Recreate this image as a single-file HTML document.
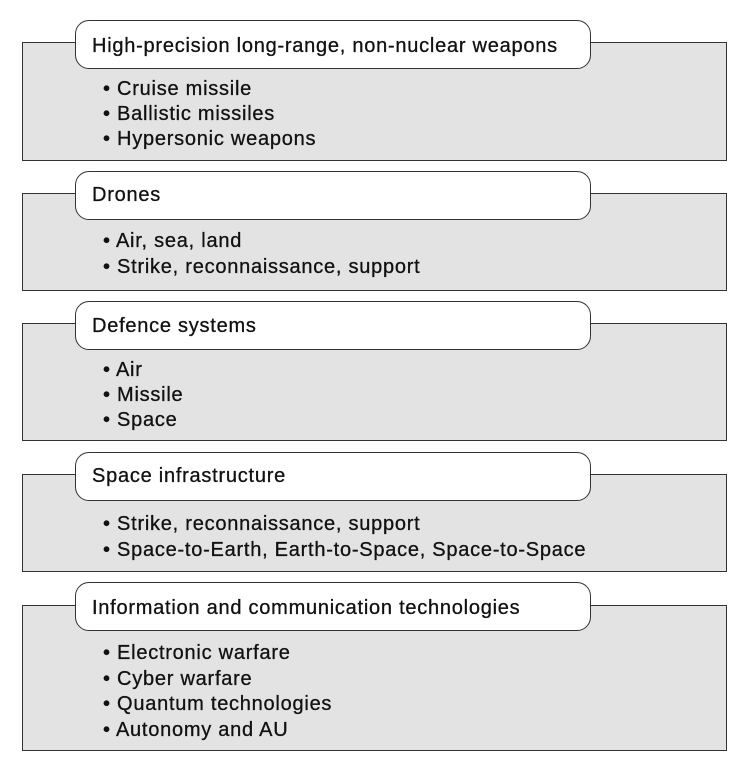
<!DOCTYPE html>
<html><head><meta charset="utf-8"><style>
body{margin:0;width:751px;height:774px;background:#fff;position:relative;overflow:hidden;font-family:"Liberation Sans",sans-serif;color:#111}
.g{position:absolute;left:22px;width:705px;background:#e3e3e4;border:1.5px solid #333;box-sizing:border-box}
.h{position:absolute;left:75px;width:516px;height:49px;background:#fff;border:1.5px solid #333;border-radius:14px;box-sizing:border-box}
.t{position:absolute;font-size:20px;line-height:20px;white-space:nowrap;letter-spacing:0.75px;-webkit-text-stroke:0.3px #111}
</style></head><body>
<div class="g" style="top:42px;height:119px"></div>
<div class="h" style="top:20px"></div>
<div class="t" style="left:92px;top:36px">High-precision long-range, non-nuclear weapons</div>
<div class="t" style="left:103px;top:79px">• Cruise missile</div>
<div class="t" style="left:103px;top:104px">• Ballistic missiles</div>
<div class="t" style="left:103px;top:129px">• Hypersonic weapons</div>

<div class="g" style="top:193px;height:98px"></div>
<div class="h" style="top:171px"></div>
<div class="t" style="left:92px;top:185px">Drones</div>
<div class="t" style="left:103px;top:231px">• Air, sea, land</div>
<div class="t" style="left:103px;top:257px">• Strike, reconnaissance, support</div>

<div class="g" style="top:323px;height:118px"></div>
<div class="h" style="top:301px"></div>
<div class="t" style="left:92px;top:316px">Defence systems</div>
<div class="t" style="left:103px;top:360px">• Air</div>
<div class="t" style="left:103px;top:385px">• Missile</div>
<div class="t" style="left:103px;top:410px">• Space</div>

<div class="g" style="top:474px;height:98px"></div>
<div class="h" style="top:452px"></div>
<div class="t" style="left:92px;top:466px">Space infrastructure</div>
<div class="t" style="left:103px;top:514px">• Strike, reconnaissance, support</div>
<div class="t" style="left:103px;top:540px">• Space-to-Earth, Earth-to-Space, Space-to-Space</div>

<div class="g" style="top:605px;height:146px"></div>
<div class="h" style="top:582px"></div>
<div class="t" style="left:92px;top:598px">Information and communication technologies</div>
<div class="t" style="left:103px;top:643px">• Electronic warfare</div>
<div class="t" style="left:103px;top:669px">• Cyber warfare</div>
<div class="t" style="left:103px;top:694px">• Quantum technologies</div>
<div class="t" style="left:103px;top:720px">• Autonomy and AU</div>
</body></html>
